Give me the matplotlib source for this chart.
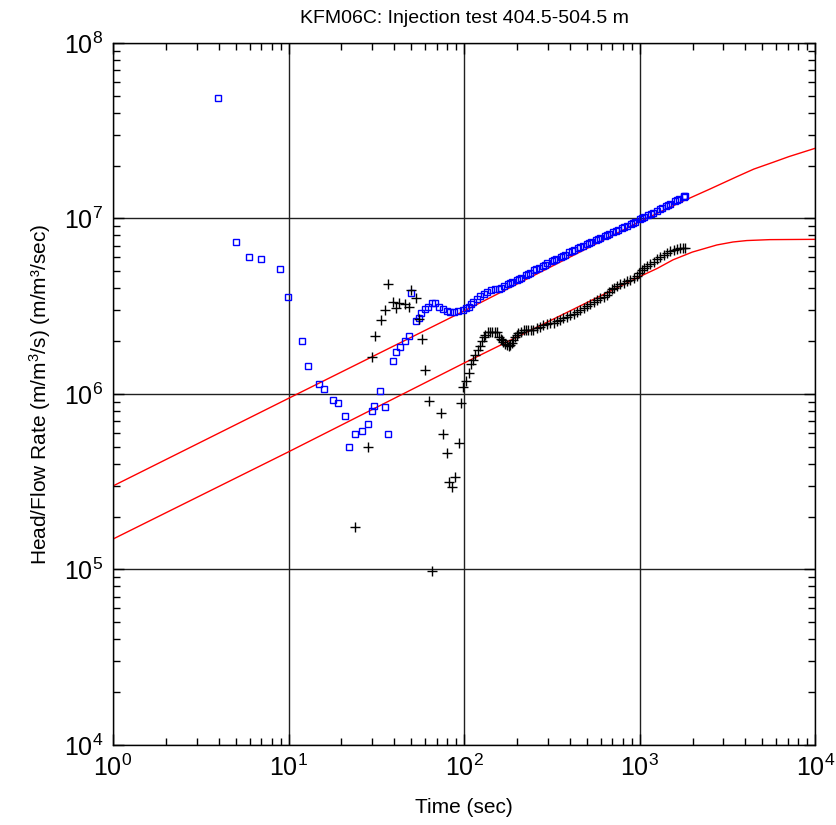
import matplotlib
matplotlib.use("Agg")
import matplotlib.pyplot as plt
from matplotlib.ticker import LogLocator, LogFormatterSciNotation, NullFormatter

plt.rcParams['font.family'] = ['Liberation Sans', 'DejaVu Sans']
plt.rcParams['mathtext.default'] = 'regular'

# blue squares - head/flow rate
t_rate = [3.98, 5.02, 5.98, 6.94, 8.95, 9.97, 12.0, 12.9, 15.0, 15.9, 17.9, 19.2,
          20.9, 22.1, 23.9, 26.2, 28.3, 29.9, 30.8, 33.2, 35.3, 36.7, 39.2, 40.8,
          43.0, 46.1, 48.4, 49.9, 53.3, 55.2, 57.1, 59.9, 62.4, 65.4, 68.7, 72.3,
          75.6, 79.7, 83.2, 87.7, 92.8, 99.1, 106, 113, 123, 135, 150,
          158.5, 167.9, 177.8, 188.4, 199.5, 211.3, 223.9, 237.1, 251.2, 266.1,
          281.8, 298.5, 316.2, 335.0, 354.8, 375.8, 398.1, 421.7, 446.7, 473.2,
          501.2, 530.9, 562.3, 595.7, 631.0, 668.3, 707.9, 749.9, 794.3, 841.4,
          891.3, 944.1, 1000, 1059, 1122, 1189, 1259, 1334, 1413, 1496, 1585,
          1679, 1778, 1820,
          103, 110, 118, 129, 142, 163, 183, 205, 230, 258, 290, 325, 365, 410,
          460, 516, 579, 650, 729, 818, 918, 1030, 1156, 1297, 1455, 1632, 1800]
rate = [4.87e7, 7.35e6, 6.04e6, 5.86e6, 5.18e6, 3.57e6, 1.99e6, 1.45e6, 1.14e6, 1.06e6,
        9.25e5, 8.92e5, 7.49e5, 4.99e5, 5.89e5, 6.15e5, 6.74e5, 8.04e5, 8.58e5, 1.04e6,
        8.43e5, 5.89e5, 1.54e6, 1.73e6, 1.84e6, 2.01e6, 2.14e6, 3.78e6, 2.61e6, 2.72e6,
        2.88e6, 3.04e6, 3.14e6, 3.29e6, 3.29e6, 3.14e6, 3.05e6, 2.97e6, 2.92e6, 2.92e6,
        2.96e6, 3.01e6, 3.14e6, 3.33e6, 3.63e6, 3.83e6, 3.97e6,
        3.98e6, 4.10e6, 4.22e6, 4.34e6, 4.47e6, 4.60e6, 4.74e6, 4.90e6, 5.05e6, 5.21e6,
        5.37e6, 5.54e6, 5.71e6, 5.88e6, 6.05e6, 6.22e6, 6.40e6, 6.58e6, 6.76e6, 6.94e6,
        7.13e6, 7.32e6, 7.52e6, 7.72e6, 7.93e6, 8.14e6, 8.36e6, 8.59e6, 8.83e6, 9.08e6,
        9.33e6, 9.60e6, 9.89e6, 1.018e7, 1.047e7, 1.078e7, 1.109e7, 1.143e7, 1.178e7,
        1.213e7, 1.250e7, 1.290e7, 1.330e7, 1.349e7,
        3.07e6, 3.24e6, 3.48e6, 3.73e6, 3.90e6, 4.04e6, 4.28e6, 4.54e6, 4.82e6, 5.13e6,
        5.46e6, 5.80e6, 6.14e6, 6.49e6, 6.85e6, 7.23e6, 7.62e6, 8.03e6, 8.47e6, 8.95e6,
        9.46e6, 1.00e7, 1.06e7, 1.13e7, 1.20e7, 1.28e7, 1.34e7]

# black crosses - derivative
t_deriv = [24.0, 28.3, 29.9, 31.0, 33.4, 35.5, 36.7, 39.5, 41.0, 42.8, 46.3, 48.8,
           50.1, 53.3, 55.2, 57.6, 59.9, 62.9, 65.4, 74.3, 76.2, 80.4, 82.5, 85.8,
           88.5, 93.2, 95.8, 99.1, 103, 106, 109, 116, 120, 123, 129, 136, 144, 154,
           159, 164, 171, 179, 187, 195, 204, 218, 232, 248, 271, 296, 323, 352, 385,
           420, 458, 500, 546, 596, 650, 695, 741, 809, 883, 964, 1030, 1100, 1200,
           1310, 1430, 1560, 1700, 1816,
           112, 126, 132, 140, 149, 161.5, 167.5, 175, 183, 191, 199.5, 211, 225, 240,
           259, 283, 309, 337, 368, 402, 439, 479, 523, 571, 623, 672, 718, 775, 845,
           923, 997, 1065, 1150, 1255, 1370, 1495, 1630, 1760]
deriv = [1.74e5, 4.97e5, 1.63e6, 2.13e6, 2.63e6, 3.01e6, 4.22e6, 3.36e6, 3.10e6, 3.31e6,
         3.26e6, 3.12e6, 3.92e6, 3.51e6, 2.67e6, 2.05e6, 1.36e6, 9.16e5, 9.80e4, 7.80e5,
         5.94e5, 4.63e5, 3.14e5, 2.94e5, 3.35e5, 5.28e5, 8.92e5, 1.09e6, 1.19e6, 1.31e6,
         1.48e6, 1.66e6, 1.78e6, 1.88e6, 2.10e6, 2.24e6, 2.26e6, 2.24e6, 2.10e6, 2.03e6,
         1.93e6, 1.88e6, 1.95e6, 2.12e6, 2.22e6, 2.30e6, 2.32e6, 2.30e6, 2.42e6, 2.51e6,
         2.55e6, 2.64e6, 2.76e6, 2.86e6, 3.01e6, 3.17e6, 3.36e6, 3.51e6, 3.66e6, 3.95e6,
         4.12e6, 4.31e6, 4.47e6, 4.70e6, 5.09e6, 5.36e6, 5.67e6, 6.01e6, 6.34e6, 6.62e6,
         6.82e6, 6.77e6,
         1.57e6, 1.99e6, 2.17e6, 2.25e6, 2.25e6, 2.06e6, 1.98e6, 1.90e6, 1.91e6, 2.03e6,
         2.17e6, 2.26e6, 2.31e6, 2.31e6, 2.36e6, 2.47e6, 2.53e6, 2.59e6, 2.70e6, 2.81e6,
         2.93e6, 3.09e6, 3.26e6, 3.43e6, 3.58e6, 3.80e6, 4.03e6, 4.21e6, 4.39e6, 4.58e6,
         4.89e6, 5.22e6, 5.51e6, 5.84e6, 6.17e6, 6.48e6, 6.72e6, 6.80e6]

# red model curves
t_fit_rate = [1, 10, 100, 1000, 1778, 2512, 3581, 4467, 5768, 7079, 10000]
fit_rate = [2.99e5, 9.44e5, 2.97e6, 9.59e6, 1.259e7, 1.47e7, 1.73e7, 1.91e7, 2.09e7,
            2.25e7, 2.51e7]
t_fit_deriv = [1, 10, 100, 1000, 1259, 1549, 1995, 2754, 3400, 4074, 5500, 10000]
fit_deriv = [1.49e5, 4.68e5, 1.50e6, 4.66e6, 5.19e6, 5.81e6, 6.43e6, 7.06e6, 7.34e6,
             7.48e6, 7.57e6, 7.60e6]

fig = plt.figure(figsize=(8.37, 8.25), dpi=100)
ax = fig.add_axes([0.135, 0.097, 0.839, 0.851])

ax.plot(t_fit_rate, fit_rate, color='red', lw=1.0, zorder=2)
ax.plot(t_fit_deriv, fit_deriv, color='red', lw=1.0, zorder=2)
ax.plot(t_rate, rate, ls='none', marker='s', ms=5, mfc='none', mec='blue', mew=1.0, zorder=3)
ax.plot(t_deriv, deriv, ls='none', marker='+', ms=7, color='black', mew=1.0, zorder=3)

ax.set_xscale('log')
ax.set_yscale('log')
ax.set_xlim(1, 1e4)
ax.set_ylim(1e4, 1e8)

for axis in (ax.xaxis, ax.yaxis):
    axis.set_major_locator(LogLocator(base=10, numticks=10))
    axis.set_major_formatter(LogFormatterSciNotation())
    axis.set_minor_locator(LogLocator(base=10, subs=range(2, 10), numticks=20))
    axis.set_minor_formatter(NullFormatter())

ax.tick_params(which='both', direction='in', top=True, right=True, labelsize=18, width=1)
ax.tick_params(which='major', length=8, pad=7)
ax.tick_params(which='minor', length=5)
ax.grid(True, which='major', color='#202020', lw=1.0)
for s in ax.spines.values():
    s.set_linewidth(1.0)

ax.set_title('KFM06C: Injection test 404.5-504.5 m', fontsize=14, pad=14)
ax.set_xlabel('Time (sec)', fontsize=15, labelpad=12)
ax.set_ylabel('Head/Flow Rate (m/m$^3$/s) (m/m³/sec)', fontsize=15, labelpad=8)

fig.savefig('out.png', dpi=100)
